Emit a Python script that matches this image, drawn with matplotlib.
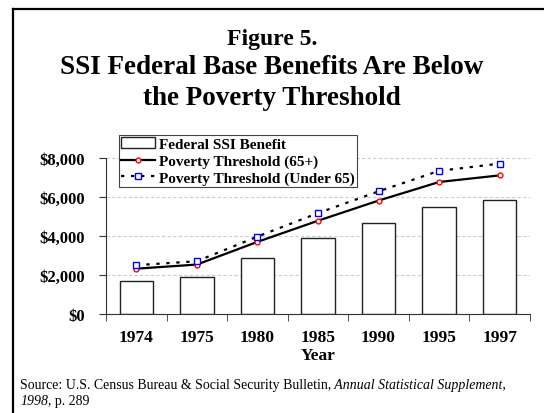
import matplotlib
matplotlib.use("Agg")
import matplotlib.pyplot as plt
from matplotlib.lines import Line2D
import numpy as np

plt.rcParams["font.family"] = ["Liberation Serif", "DejaVu Serif"]

years = ["1974", "1975", "1980", "1985", "1990", "1995", "1997"]
ssi_benefit = [1680, 1892, 2856, 3900, 4632, 5496, 5808]
pov_65plus = [2320, 2530, 3690, 4770, 5800, 6750, 7090]
pov_under65 = [2500, 2700, 3960, 5160, 6270, 7320, 7690]
yticks = [0, 2000, 4000, 6000, 8000]

fig = plt.figure(figsize=(5.44, 4.14), dpi=100)
ax = fig.add_axes([0.195, 0.239, 0.779, 0.378])

x = np.arange(len(years))
bars = ax.bar(x, ssi_benefit, 0.55, color="white", edgecolor="#222222", lw=1.0,
              label="Federal SSI Benefit", zorder=2)
l1, = ax.plot(x, pov_65plus, color="black", lw=1.6, marker="o", ms=3.5, mfc="white",
              mec="red", mew=1.0, label="Poverty Threshold (65+)", zorder=3)
l2, = ax.plot(x, pov_under65, color="black", lw=1.6, ls=(0, (1.5, 3)), marker="s", ms=4,
              mfc="white", mec="blue", mew=1.0, label="Poverty Threshold (Under 65)", zorder=3)

ax.set_xlim(-0.5, len(years) - 0.5)
ax.set_ylim(0, 8000)
ax.set_yticks(yticks)
ax.set_yticklabels([f"${v:,}" for v in yticks], fontsize=12, fontweight="bold")
ax.set_xticks(x)
ax.set_xticklabels(years, fontsize=12.5, fontweight="bold")
ax.set_xticks(np.arange(-0.5, len(years), 1), minor=True)
ax.tick_params(axis="x", which="major", length=0, pad=11)
ax.tick_params(axis="x", which="minor", length=5, direction="out", color="#333333")
ax.tick_params(axis="y", length=5, direction="out", color="#333333", pad=10)
ax.set_xlabel("Year", fontsize=12.5, fontweight="bold", labelpad=1)
ax.grid(True, axis="y", color="#cccccc", ls=(0, (3, 2)), lw=0.8)
ax.set_axisbelow(True)
for s in ("top", "right"):
    ax.spines[s].set_visible(False)
for s in ("left", "bottom"):
    ax.spines[s].set_color("#333333")

leg = ax.legend([bars, l1, l2], [bars.get_label(), l1.get_label(), l2.get_label()],
                loc="lower left", bbox_to_anchor=(0.03, 0.81),
                prop={"weight": "bold", "size": 11}, frameon=True, fancybox=False,
                edgecolor="#444444", framealpha=1, handlelength=2.2, handletextpad=0.3,
                borderpad=0.15, labelspacing=0.2, borderaxespad=0)
leg.get_frame().set_linewidth(0.8)

fig.text(0.5, 0.905, "Figure 5.", ha="center", va="center", fontsize=17, fontweight="bold")
fig.text(0.5, 0.8, "SSI Federal Base Benefits Are Below\nthe Poverty Threshold",
         ha="center", va="center", fontsize=19.5, fontweight="bold", linespacing=1.3)

t1 = fig.text(0.037, 0.06, "Source: U.S. Census Bureau & Social Security Bulletin,",
              fontsize=10, va="baseline")
ax.annotate(" Annual Statistical Supplement,", xy=(1, 0), xycoords=t1, fontsize=10,
            style="italic", va="bottom", annotation_clip=False)
t2 = fig.text(0.037, 0.022, "1998", fontsize=10, style="italic", va="baseline")
ax.annotate(", p. 289", xy=(1, 0), xycoords=t2, fontsize=10, va="bottom",
            annotation_clip=False)

fig.add_artist(Line2D([0.024, 0.024], [0.976, 0.0], transform=fig.transFigure,
                      color="black", lw=1.6))
fig.add_artist(Line2D([0.024, 1.0], [0.976, 0.976], transform=fig.transFigure,
                      color="black", lw=1.6))

fig.savefig("out.png", dpi=100)
